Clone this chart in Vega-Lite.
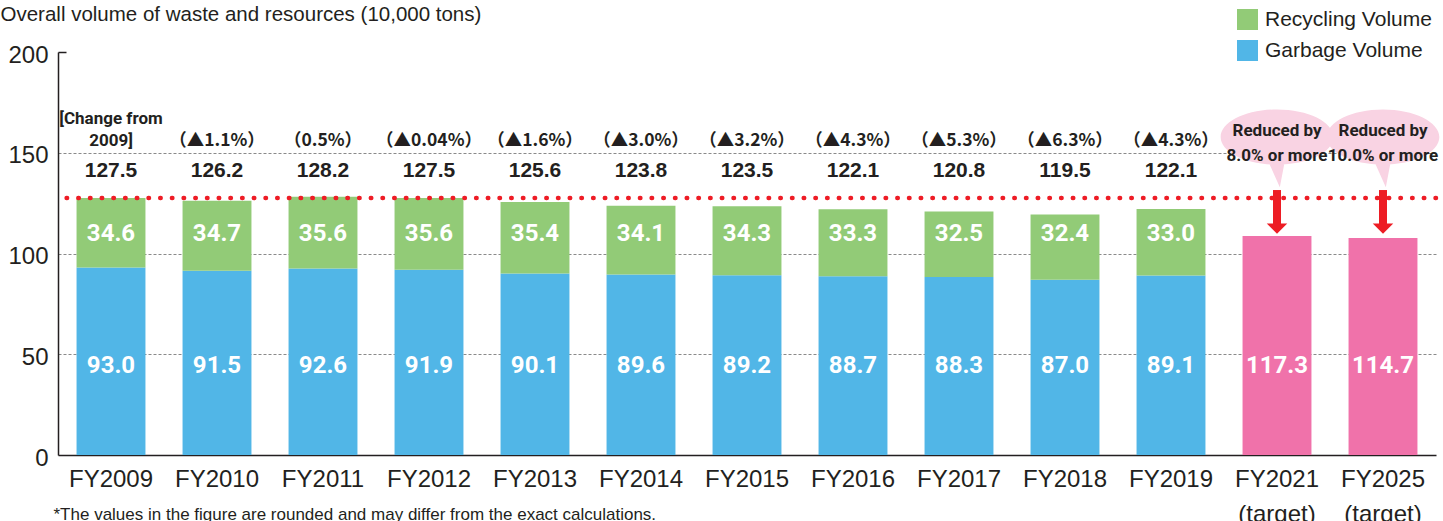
{
  "$schema": "https://vega.github.io/schema/vega-lite/v6.json",
  "width": 1378,
  "height": 403,
  "autosize": {"type": "none"},
  "padding": {"left": 58, "top": 52, "right": 7, "bottom": 66},
  "background": "white",
  "config": {"view": {"stroke": null}, "font": "Liberation Sans"},
  "datasets": {
    "bars": [
      {"year": "FY2009", "type": "Garbage Volume", "value": 93.0, "label": "93.0"},
      {"year": "FY2009", "type": "Recycling Volume", "value": 34.6, "label": "34.6"},
      {"year": "FY2010", "type": "Garbage Volume", "value": 91.5, "label": "91.5"},
      {"year": "FY2010", "type": "Recycling Volume", "value": 34.7, "label": "34.7"},
      {"year": "FY2011", "type": "Garbage Volume", "value": 92.6, "label": "92.6"},
      {"year": "FY2011", "type": "Recycling Volume", "value": 35.6, "label": "35.6"},
      {"year": "FY2012", "type": "Garbage Volume", "value": 91.9, "label": "91.9"},
      {"year": "FY2012", "type": "Recycling Volume", "value": 35.6, "label": "35.6"},
      {"year": "FY2013", "type": "Garbage Volume", "value": 90.1, "label": "90.1"},
      {"year": "FY2013", "type": "Recycling Volume", "value": 35.4, "label": "35.4"},
      {"year": "FY2014", "type": "Garbage Volume", "value": 89.6, "label": "89.6"},
      {"year": "FY2014", "type": "Recycling Volume", "value": 34.1, "label": "34.1"},
      {"year": "FY2015", "type": "Garbage Volume", "value": 89.2, "label": "89.2"},
      {"year": "FY2015", "type": "Recycling Volume", "value": 34.3, "label": "34.3"},
      {"year": "FY2016", "type": "Garbage Volume", "value": 88.7, "label": "88.7"},
      {"year": "FY2016", "type": "Recycling Volume", "value": 33.3, "label": "33.3"},
      {"year": "FY2017", "type": "Garbage Volume", "value": 88.3, "label": "88.3"},
      {"year": "FY2017", "type": "Recycling Volume", "value": 32.5, "label": "32.5"},
      {"year": "FY2018", "type": "Garbage Volume", "value": 87.0, "label": "87.0"},
      {"year": "FY2018", "type": "Recycling Volume", "value": 32.4, "label": "32.4"},
      {"year": "FY2019", "type": "Garbage Volume", "value": 89.1, "label": "89.1"},
      {"year": "FY2019", "type": "Recycling Volume", "value": 33.0, "label": "33.0"},
      {"year": "FY2021 (target)", "type": "Target", "value": 108.7, "label": "117.3"},
      {"year": "FY2025 (target)", "type": "Target", "value": 107.7, "label": "114.7"}
    ],
    "totals": [
      {"year": "FY2009", "total": 127.5, "change": "[Change from\n2009]"},
      {"year": "FY2010", "total": 126.2, "change": "（▲1.1%）"},
      {"year": "FY2011", "total": 128.2, "change": "（0.5%）"},
      {"year": "FY2012", "total": 127.5, "change": "（▲0.04%）"},
      {"year": "FY2013", "total": 125.6, "change": "（▲1.6%）"},
      {"year": "FY2014", "total": 123.8, "change": "（▲3.0%）"},
      {"year": "FY2015", "total": 123.5, "change": "（▲3.2%）"},
      {"year": "FY2016", "total": 122.1, "change": "（▲4.3%）"},
      {"year": "FY2017", "total": 120.8, "change": "（▲5.3%）"},
      {"year": "FY2018", "total": 119.5, "change": "（▲6.3%）"},
      {"year": "FY2019", "total": 122.1, "change": "（▲4.3%）"}
    ],
    "targets": [
      {"year": "FY2021 (target)", "note": "Reduced by\n8.0% or more"},
      {"year": "FY2025 (target)", "note": "Reduced by\n10.0% or more"}
    ]
  },
  "layer": [
    {
      "data": {"name": "bars"},
      "mark": {"type": "bar", "strokeWidth": 0},
      "encoding": {
        "x": {
          "field": "year", "type": "nominal", "sort": null,
          "scale": {"domain": ["FY2009","FY2010","FY2011","FY2012","FY2013","FY2014","FY2015","FY2016","FY2017","FY2018","FY2019","FY2021 (target)","FY2025 (target)"], "paddingInner": 0.35, "paddingOuter": 0.175},
          "axis": {
            "title": "*The values in the figure are rounded and may differ from the exact calculations.",
            "titleX": -5, "titleY": 64, "titleAlign": "left", "titleAnchor": "start", "titleBaseline": "alphabetic",
            "titleFontSize": 17, "titleFontWeight": "normal", "titleColor": "#231f20",
            "labelAngle": 0, "labelFontSize": 24, "labelColor": "#231f20", "labelPadding": 12,
            "labelLineHeight": 35, "labelOverlap": false,
            "labelExpr": "indexof(datum.label, ' (') > 0 ? split(datum.label, ' ') : datum.label",
            "ticks": false, "domainColor": "#231f20", "domainWidth": 1.5
          }
        },
        "y": {
          "field": "value", "type": "quantitative", "stack": "zero",
          "scale": {"domain": [0, 200], "nice": false},
          "axis": {
            "values": [0, 50, 100, 150, 200],
            "title": "Overall volume of waste and resources (10,000 tons)",
            "titleAngle": 0, "titleAlign": "left", "titleBaseline": "middle", "titleX": -58, "titleY": -38,
            "titleFont": "Liberation Sans", "titleFontSize": 20.5, "titleFontWeight": "normal", "titleColor": "#231f20",
            "labelFontSize": 24, "labelColor": "#231f20", "labelOffset": 3,
            "ticks": true, "tickSize": -8, "labelPadding": 18,
            "tickOpacity": {"condition": {"test": "datum.value === 200", "value": 1}, "value": 0},
            "tickColor": "#231f20", "tickWidth": 1.5,
            "domainColor": "#231f20", "domainWidth": 1.5,
            "grid": true, "gridColor": "#8a8a8a", "gridDash": [3, 2], "gridWidth": 1.2,
            "gridOpacity": {"condition": {"test": "datum.value === 0 || datum.value === 200", "value": 0}, "value": 1}
          }
        },
        "color": {
          "field": "type", "type": "nominal",
          "scale": {"domain": ["Recycling Volume", "Garbage Volume", "Target"], "range": ["#92cb77", "#51b6e7", "#f072aa"]},
          "legend": {
            "values": ["Recycling Volume", "Garbage Volume"], "orient": "none", "legendX": 1179, "legendY": -43,
            "title": null, "symbolType": "square", "symbolSize": 441, "symbolStrokeWidth": 0, "symbolOpacity": 1,
            "labelFontSize": 21, "labelColor": "#231f20", "labelOffset": 7, "labelLimit": 400, "rowPadding": 9, "padding": 0
          }
        },
        "order": {"field": "type", "sort": "ascending"}
      }
    },
    {
      "data": {"name": "totals"},
      "transform": [{"filter": "datum.year === 'FY2009'"}],
      "mark": {"type": "rule", "color": "#ee1c25", "strokeWidth": 4.5, "strokeCap": "round", "strokeDash": [0.5, 11.2]},
      "encoding": {
        "y": {"field": "total", "type": "quantitative"}
      }
    },
    {
      "data": {"name": "targets"},
      "mark": {"type": "point", "filled": true, "opacity": 1, "strokeWidth": 0, "color": "#f9d3e3",
        "shape": "M-1,0C-1,-0.27 -0.55,-0.49 0,-0.49C0.55,-0.49 1,-0.27 1,0C1,0.27 0.55,0.49 0,0.49C-0.55,0.49 -1,0.27 -1,0ZM-0.16,0.42L0.14,0.42L0.05,0.89Z",
        "size": 12700},
      "encoding": {
        "x": {"field": "year", "type": "nominal", "sort": null},
        "y": {"datum": 157.8}
      }
    },
    {
      "data": {"name": "targets"},
      "mark": {"type": "text", "font": "Roboto", "fontWeight": "bold", "fontSize": 17, "lineBreak": "\n", "lineHeight": 25, "color": "#231f20", "baseline": "middle"},
      "encoding": {
        "x": {"field": "year", "type": "nominal", "sort": null},
        "y": {"datum": 160.6},
        "text": {"field": "note"}
      }
    },
    {
      "data": {"name": "targets"},
      "mark": {"type": "rule", "color": "#ed1c24", "strokeWidth": 8},
      "encoding": {
        "x": {"field": "year", "type": "nominal", "sort": null},
        "y": {"datum": 131.5},
        "y2": {"datum": 114.6}
      }
    },
    {
      "data": {"name": "targets"},
      "mark": {"type": "point", "filled": true, "opacity": 1, "strokeWidth": 0, "color": "#ed1c24",
        "shape": "M-1,-0.5L1,-0.5L0,0.5Z", "size": 420},
      "encoding": {
        "x": {"field": "year", "type": "nominal", "sort": null},
        "y": {"datum": 112.4}
      }
    },
    {
      "data": {"name": "bars"},
      "transform": [{"filter": "datum.type !== 'Recycling Volume'"}],
      "mark": {"type": "text", "font": "Roboto", "fontWeight": "bold", "fontSize": 24, "color": "white", "baseline": "middle"},
      "encoding": {
        "x": {"field": "year", "type": "nominal", "sort": null},
        "y": {"datum": 44.0},
        "text": {"field": "label"}
      }
    },
    {
      "data": {"name": "bars"},
      "transform": [{"filter": "datum.type === 'Recycling Volume'"}],
      "mark": {"type": "text", "font": "Roboto", "fontWeight": "bold", "fontSize": 24, "color": "white", "baseline": "middle"},
      "encoding": {
        "x": {"field": "year", "type": "nominal", "sort": null},
        "y": {"datum": 109.5},
        "text": {"field": "label"}
      }
    },
    {
      "data": {"name": "totals"},
      "mark": {"type": "text", "fontWeight": "bold", "fontSize": 21, "color": "#231f20", "baseline": "middle"},
      "encoding": {
        "x": {"field": "year", "type": "nominal", "sort": null},
        "y": {"datum": 140.8},
        "text": {"field": "total", "format": ".1f"}
      }
    },
    {
      "data": {"name": "totals"},
      "transform": [{"filter": "datum.year !== 'FY2009'"}],
      "mark": {"type": "text", "font": "Noto Sans CJK JP", "fontWeight": "bold", "fontSize": 17.5, "color": "#231f20", "baseline": "bottom"},
      "encoding": {
        "x": {"field": "year", "type": "nominal", "sort": null},
        "y": {"datum": 151.5},
        "text": {"field": "change"}
      }
    },
    {
      "data": {"name": "totals"},
      "transform": [{"filter": "datum.year === 'FY2009'"}],
      "mark": {"type": "text", "font": "Roboto", "fontWeight": "bold", "fontSize": 17, "lineBreak": "\n", "lineHeight": 22, "color": "#231f20", "baseline": "bottom"},
      "encoding": {
        "x": {"field": "year", "type": "nominal", "sort": null},
        "y": {"datum": 162.4},
        "text": {"field": "change"}
      }
    }
  ]
}
